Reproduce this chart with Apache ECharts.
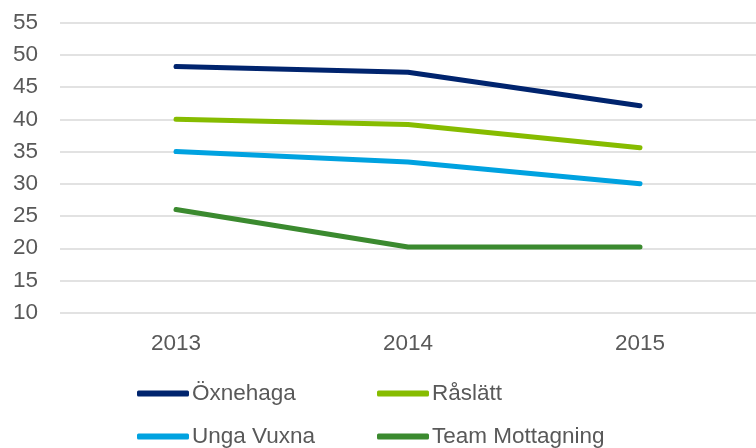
<!DOCTYPE html>
<html>
<head>
<meta charset="utf-8">
<script src="https://cdn.jsdelivr.net/npm/echarts@6/dist/echarts.min.js"></script>
<style>
  html, body { margin: 0; padding: 0; background: #fff; }
  #chart { width: 756px; height: 448px; }
</style>
</head>
<body>
<div id="chart"></div>
<script>
// data
var years = ['2013', '2014', '2015'];
var oxnehaga = [48.2, 47.3, 42.1];
var raslatt = [40.0, 39.2, 35.6];
var ungaVuxna = [35.0, 33.4, 30.0];
var teamMottagning = [26.0, 20.2, 20.2];

var names = ['Öxnehaga', 'Råslätt', 'Unga Vuxna', 'Team Mottagning'];
var colors = ['#00246e', '#86bc00', '#00a2e0', '#3b8a2f'];
var values = [oxnehaga, raslatt, ungaVuxna, teamMottagning];

var textColor = '#595959';
var font = 'Liberation Sans, Arial, sans-serif';

var chart = echarts.init(document.getElementById('chart'));

// one legend per item so the 2x2 layout matches
var legendPos = [
  { left: 137, top: 382 },
  { left: 377, top: 382 },
  { left: 137, top: 425 },
  { left: 377, top: 425 }
];

var legends = names.map(function (n, i) {
  return {
    data: [n],
    left: legendPos[i].left,
    top: legendPos[i].top,
    padding: 0,
    icon: 'roundRect',
    itemWidth: 52,
    itemHeight: 6,
    itemGap: 0,
    selectedMode: false,
    textStyle: { color: textColor, fontSize: 22.5, fontFamily: font, padding: [0, 0, 0, -2] }
  };
});

var series = names.map(function (n, i) {
  return {
    name: n,
    type: 'line',
    data: values[i],
    symbol: 'none',
    color: colors[i],
    lineStyle: { width: 5, cap: 'round', join: 'round', color: colors[i] },
    animation: false
  };
});

var option = {
  animation: false,
  grid: { left: 60, right: 0, top: 22.7, bottom: 135.3, containLabel: false },
  legend: legends,
  xAxis: {
    type: 'category',
    data: years,
    boundaryGap: true,
    axisLine: { show: false },
    axisTick: { show: false },
    axisLabel: { color: textColor, fontSize: 22.5, fontFamily: font, margin: 20 }
  },
  yAxis: {
    type: 'value',
    min: 10,
    max: 55,
    interval: 5,
    axisLine: { show: false },
    axisTick: { show: false },
    axisLabel: { color: textColor, fontSize: 22.5, fontFamily: font, margin: 22, padding: [4, 0, 0, 0] },
    splitLine: { lineStyle: { color: '#d9d9d9', width: 1.5 } }
  },
  series: series
};

chart.setOption(option);
</script>
</body>
</html>
